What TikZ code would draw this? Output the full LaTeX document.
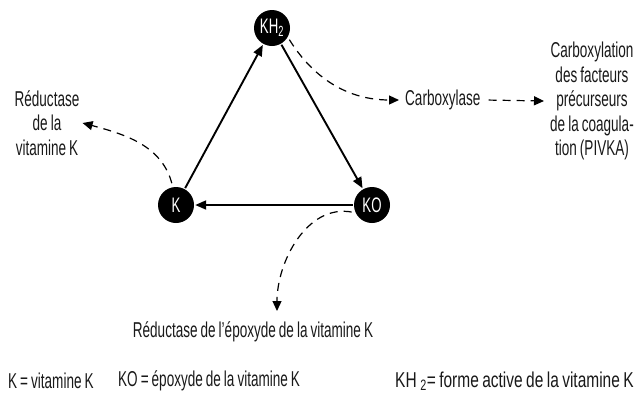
\documentclass[tikz,border=0pt]{standalone}
\usepackage{fontspec}
\setmainfont[FakeStretch=0.63,WordSpace=0.8]{Liberation Sans}
\usetikzlibrary{arrows.meta}
\begin{document}
\begin{tikzpicture}[x=1pt,y=-1pt,
  every node/.style={font=\fontsize{21.5}{24.5}\selectfont, inner sep=0pt, text=black!90},
  vk/.style={circle, fill=black, minimum size=36pt, text=white, font=\fontsize{21}{22}\selectfont},
  solidarr/.style={line width=1.9pt, -{Triangle[length=11pt,width=9pt]}, shorten >=1pt, shorten <=1pt},
  dasharr/.style={line width=1.2pt, dash pattern=on 8pt off 6pt, -{Triangle[length=10pt,width=9pt]}},
  lbl/.style={align=center}]
\useasboundingbox (0,0) rectangle (639,400);
% molecules
\node[vk] (kh2) at (272,28) {KH\textsubscript{2}};
\node[vk] (k) at (176,205) {K};
\node[vk] (ko) at (372,205) {KO};
% cycle
\draw[solidarr] (k) -- (kh2);
\draw[solidarr] (kh2) -- (ko);
\draw[solidarr] (ko) -- (k);
% labels
\node[anchor=west] (carb) at (405,100) {Carboxylase};
\node[lbl] (pivka) at (592,101) {Carboxylation\\des facteurs\\précurseurs\\de la coagula-\\tion (PIVKA)};
\node[lbl] (red) at (47,123) {Réductase\\de la\\vitamine K};
\node (redepo) at (253,332) {Réductase de l’époxyde de la vitamine K};
\coordinate (epo) at (277,311);
% dashed arrows
\draw[dasharr, shorten <=3pt] (kh2.-30) to[out=-58,in=180] ([xshift=-6pt]carb.west);
\draw[dasharr, shorten <=4pt] ([xshift=4pt]carb.east) -- ([xshift=-6pt]pivka.west);
\draw[dasharr, shorten <=4pt] (k.100) to[out=105,in=-15] ([xshift=3pt]red.east);
\draw[dasharr, shorten <=4pt] (ko.205) to[out=170,in=90] (epo);
% legend
\node[anchor=west] (l1) at (8,381) {K = vitamine K};
\node[anchor=west] (l2) at (118,381) {KO = époxyde de la vitamine K};
\node[anchor=west, font=\fontsize{21.5}{24.5}\selectfont\addfontfeature{FakeStretch=0.72}] (l3) at (395,381) {KH\,\textsubscript{2}= forme active de la vitamine K};
\end{tikzpicture}
\end{document}
